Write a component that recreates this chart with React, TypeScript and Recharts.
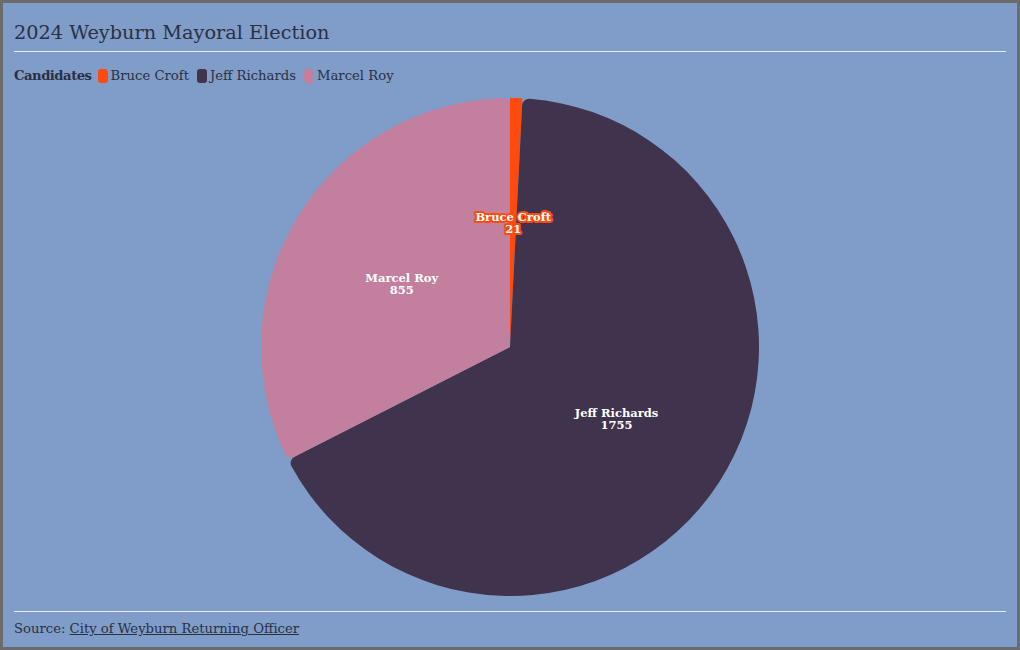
import { PieChart, Pie, Cell } from "recharts";

const candidates = ["Bruce Croft", "Jeff Richards", "Marcel Roy"];
const votes = [21, 1755, 855];
const colors = ["#ff4a0f", "#3f334e", "#c2809e"];

const data = candidates.map((name, i) => ({ name, value: votes[i] }));

const FONT = "'DejaVu Serif', serif";
const RADIAN = Math.PI / 180;

function SliceLabel(props: any) {
  const { cx, cy, midAngle, outerRadius, name, value, index } = props;
  const r = outerRadius * 0.51;
  const x = cx + r * Math.cos(-midAngle * RADIAN);
  const y = cy + r * Math.sin(-midAngle * RADIAN);
  return (
    <text
      x={x}
      y={y}
      textAnchor="middle"
      fill="#ffffff"
      stroke={colors[index]}
      strokeWidth={4}
      strokeLinejoin="round"
      paintOrder="stroke"
      fontFamily={FONT}
      fontSize={11.5}
      fontWeight="bold"
    >
      <tspan x={x} dy={1}>{name}</tspan>
      <tspan x={x} dy={12}>{value}</tspan>
    </text>
  );
}

export default function App() {
  return (
    <div
      style={{
        position: "relative",
        width: 1020,
        height: 650,
        boxSizing: "border-box",
        border: "3px solid #6b6b6b",
        background: "#809cc9",
        fontFamily: FONT,
        color: "#2a3142",
      }}
    >
      <style>{`body{margin:0}`}</style>
      <div style={{ position: "absolute", left: 0, top: 0 }}>
        <PieChart width={1014} height={644}>
          <Pie
            data={data}
            dataKey="value"
            nameKey="name"
            cx={502}
            cy={339}
            outerRadius={249}
            startAngle={90}
            endAngle={-270}
            cornerRadius={7}
            stroke="none"
            label={SliceLabel}
            labelLine={false}
            isAnimationActive={false}
          >
            {data.map((d, i) => (
              <Cell key={d.name} fill={colors[i]} />
            ))}
          </Pie>
        </PieChart>
      </div>
      <div
        style={{
          position: "absolute",
          left: 11,
          top: 18,
          fontSize: 19.3,
        }}
      >
        2024 Weyburn Mayoral Election
      </div>
      <div
        style={{
          position: "absolute",
          left: 11,
          right: 11,
          top: 48,
          borderTop: "1px solid #e3e9f3",
        }}
      />
      <div
        style={{
          position: "absolute",
          left: 11,
          top: 65,
          fontSize: 13.2,
          display: "flex",
          alignItems: "center",
        }}
      >
        <span style={{ fontWeight: "bold", letterSpacing: -0.5, marginRight: 6 }}>Candidates</span>
        {candidates.map((c, i) => (
          <span key={c} style={{ display: "flex", alignItems: "center", marginRight: 8 }}>
            <span
              style={{
                display: "inline-block",
                width: 10,
                height: 14,
                borderRadius: 3,
                background: colors[i],
                marginRight: 3,
              }}
            />
            {c}
          </span>
        ))}
      </div>
      <div
        style={{
          position: "absolute",
          left: 11,
          right: 11,
          top: 608,
          borderTop: "1px solid #e3e9f3",
        }}
      />
      <div style={{ position: "absolute", left: 11, top: 618, fontSize: 13.2 }}>
        Source:{" "}
        <span style={{ textDecoration: "underline" }}>City of Weyburn Returning Officer</span>
      </div>
    </div>
  );
}
